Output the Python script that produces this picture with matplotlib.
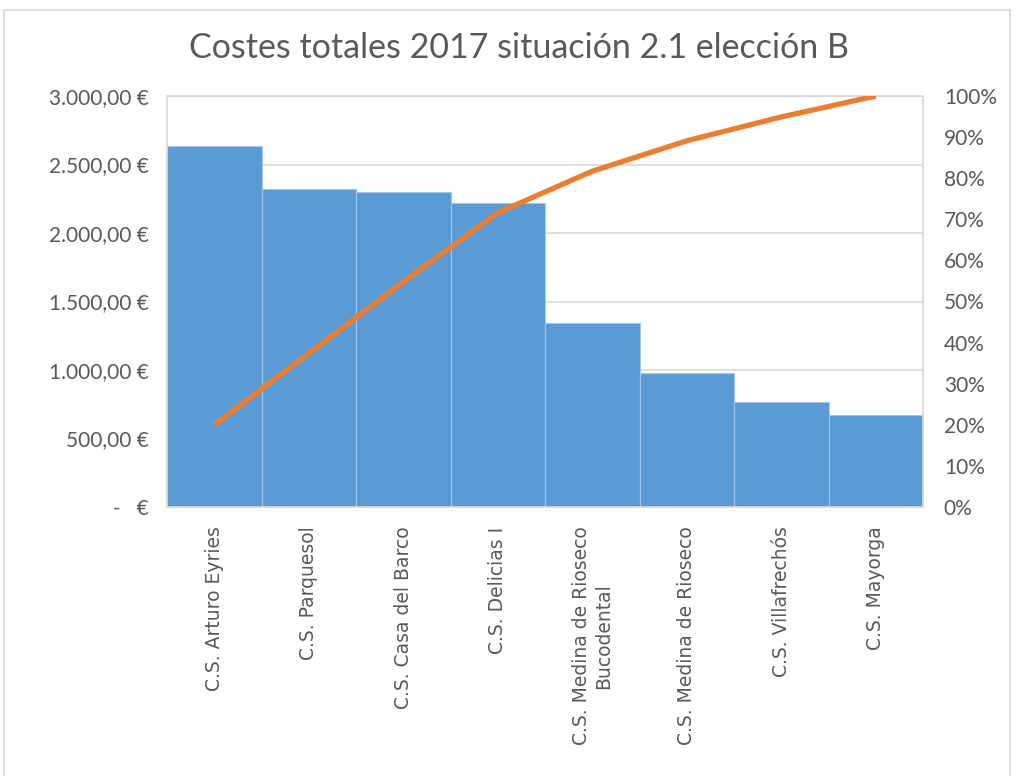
import numpy as np
import matplotlib
matplotlib.use("Agg")
from matplotlib import pyplot as plt
from matplotlib.patches import Rectangle
from matplotlib.ticker import FuncFormatter, MultipleLocator

# costes totales por centro de salud (ordenados de mayor a menor)
centros = ["C.S. Arturo Eyries", "C.S. Parquesol", "C.S. Casa del Barco",
           "C.S. Delicias I", "C.S. Medina de Rioseco\nBucodental",
           "C.S. Medina de Rioseco", "C.S. Villafrechós", "C.S. Mayorga"]
costes = [2635, 2320, 2300, 2220, 1343, 978, 766, 672]
# porcentaje acumulado (pareto)
acumulado = [0.20, 0.374, 0.548, 0.716, 0.817, 0.891, 0.949, 1.0]

titulo = "Costes totales 2017 situación 2.1 elección B"

gris = "#595959"
rejilla = "#d9d9d9"
azul = "#5b9bd5"
naranja = "#ed7d31"

fig = plt.figure(figsize=(10.16, 7.76), dpi=100)
ax = fig.add_axes([167/1016, 1 - 507/776, (923-167)/1016, (507-96)/776])

x = np.arange(len(centros))
ax.bar(x, costes, width=1.0, color=azul, edgecolor="#a7c6e6", linewidth=0.8, zorder=2)
ax.set_xlim(-0.5, len(centros) - 0.5)
ax.set_ylim(0, 3000)
ax.yaxis.set_major_locator(MultipleLocator(500))


def euros(v, pos):
    if v == 0:
        return "-   €"
    s = f"{v:,.2f}".replace(",", "X").replace(".", ",").replace("X", ".")
    return s + " €"


ax.yaxis.set_major_formatter(FuncFormatter(euros))
ax.grid(axis="y", color=rejilla, linewidth=1.2, zorder=0)
ax.set_axisbelow(True)
for lado in ["left", "right", "top", "bottom"]:
    ax.spines[lado].set_color(rejilla)
    ax.spines[lado].set_linewidth(1.2)

ax.set_xticks(x)
ax.set_xticklabels(centros, rotation=90, fontsize=13.5, color=gris,
                   family="DejaVu Sans", ha="center", va="top", multialignment="center")
ax.tick_params(axis="x", length=0, pad=14)
ax.tick_params(axis="y", length=0, pad=13, labelsize=15, labelcolor=gris)
for t in ax.get_yticklabels():
    t.set_family("Lato")

ax2 = ax.twinx()
ax2.plot(x, acumulado, color=naranja, linewidth=3.8, solid_capstyle="butt", zorder=3)
ax2.set_ylim(0, 1)
ax2.yaxis.set_major_locator(MultipleLocator(0.1))
ax2.yaxis.set_major_formatter(FuncFormatter(lambda v, p: f"{v*100:.0f}%"))
ax2.tick_params(axis="y", length=0, pad=15, labelsize=15, labelcolor=gris)
for t in ax2.get_yticklabels():
    t.set_family("Lato")
for lado in ["left", "right", "top", "bottom"]:
    ax2.spines[lado].set_visible(False)

fig.text(519/1016, 1 - 48/776, titulo, ha="center", va="center", fontsize=24.5,
         color=gris, family="Lato")

# marco exterior del gráfico
fig.patches.append(Rectangle((4/1016, -0.01), 1006/1016, 1 - 10/776 + 0.01,
                             transform=fig.transFigure, fill=False,
                             edgecolor=rejilla, linewidth=1.2))

fig.savefig("out.png", dpi=100, facecolor="white")
